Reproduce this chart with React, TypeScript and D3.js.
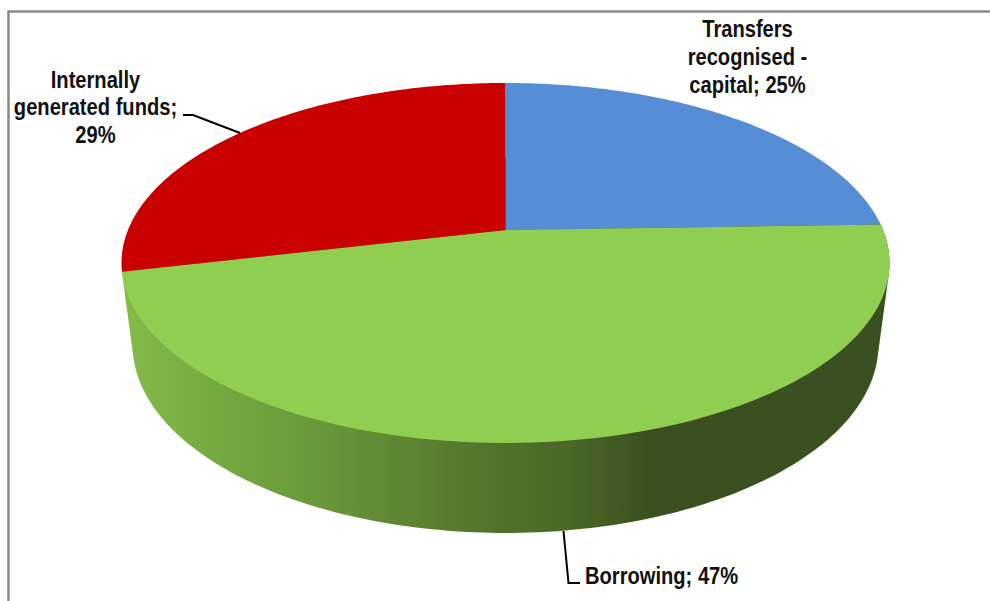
import React from "react";
import * as d3 from "d3";

const categories = ["Transfers recognised - capital", "Borrowing", "Internally generated funds"];
const shares = [24.5, 46.8, 28.7];
const colors = ["#558ed5", "#8fce50", "#c80000"];

const cx = 505.5, apexY = 230;
const persp = -0.1833, kx = 377.5, ay = 131.8;
const faceCy = 263;
const baseCy = 345, baseScaleX = 0.971, baseScaleY = 1.044;

function top(a: number): [number, number] {
  const u = Math.sin(a), v = -Math.cos(a);
  const w = 1 + persp * v;
  return [cx + (kx * u) / w, (ay * v + apexY) / w];
}
function bottom(a: number): [number, number] {
  const [x, y] = top(a);
  return [cx + (x - cx) * baseScaleX, baseCy + (y - faceCy) * baseScaleY];
}

const arcs = d3.pie<number>().sort(null)(shares);

function slicePath(s: number, e: number) {
  const pts = d3.range(0, 121).map((i) => top(s + ((e - s) * i) / 120));
  return d3.line()([[cx, apexY], ...pts]) + "Z";
}

const green = arcs[1];
const topPts = d3.range(0, 201).map((i) => top(green.startAngle + ((green.endAngle - green.startAngle) * i) / 200));
const basePts = d3.range(0, 360).map((i) => bottom((i / 360) * 2 * Math.PI));
const sideHull = d3.polygonHull([...topPts, ...basePts])!;

const gradX = [122, 230, 330, 430, 500, 570, 650, 889];
const gradC = ["#85bc49", "#73a63f", "#689639", "#5a8030", "#52722b", "#4a6727", "#3b5020", "#3b5020"];

const font = "'Liberation Sans', Arial, sans-serif";
const labelStyle: React.CSSProperties = { fontFamily: font, fontWeight: 700, fontSize: 23, fill: "#111" };
const sx = 0.875;
const labels = [
  { x: 747.5, lines: ["Transfers", "recognised -", "capital; 25%"], y: [37, 65, 93] },
  { x: 95.5, lines: ["Internally", "generated funds;", "29%"], y: [88, 115, 143] },
];

export default function App() {
  return (
    <svg width={990} height={601} style={{ position: "absolute", left: 0, top: 0, background: "#fff" }}>
      <defs>
        <linearGradient id="side" gradientUnits="userSpaceOnUse" x1={122} x2={889} y1={0} y2={0}>
          {gradX.map((x, i) => <stop key={i} offset={(x - 122) / (889 - 122)} stopColor={gradC[i]} />)}
        </linearGradient>
      </defs>
      <path d="M8.5 601V11.5H990" fill="none" stroke="#8a8a8a" strokeWidth={2.5} />
      <path d={d3.line()(sideHull) + "Z"} fill="url(#side)" />
      {arcs.map((d, i) => (
        <path key={categories[i]} d={slicePath(d.startAngle, d.endAngle)} fill={colors[i]} />
      ))}
      <path d={d3.line()([[183, 115], [193, 115], [240, 133]])!} fill="none" stroke="#000" strokeWidth={2} />
      <path d={d3.line()([[563.5, 531], [568.5, 583], [580, 583]])!} fill="none" stroke="#000" strokeWidth={2} />
      {labels.map((l) =>
        l.lines.map((t, i) => (
          <text key={t} x={l.x} y={l.y[i]} textAnchor="middle" style={labelStyle} transform={`translate(${l.x} 0) scale(${sx} 1) translate(${-l.x} 0)`}>{t}</text>
        ))
      )}
      <text x={585} y={584} style={labelStyle} transform={`translate(585 0) scale(${sx} 1) translate(-585 0)`}>Borrowing; 47%</text>
    </svg>
  );
}
